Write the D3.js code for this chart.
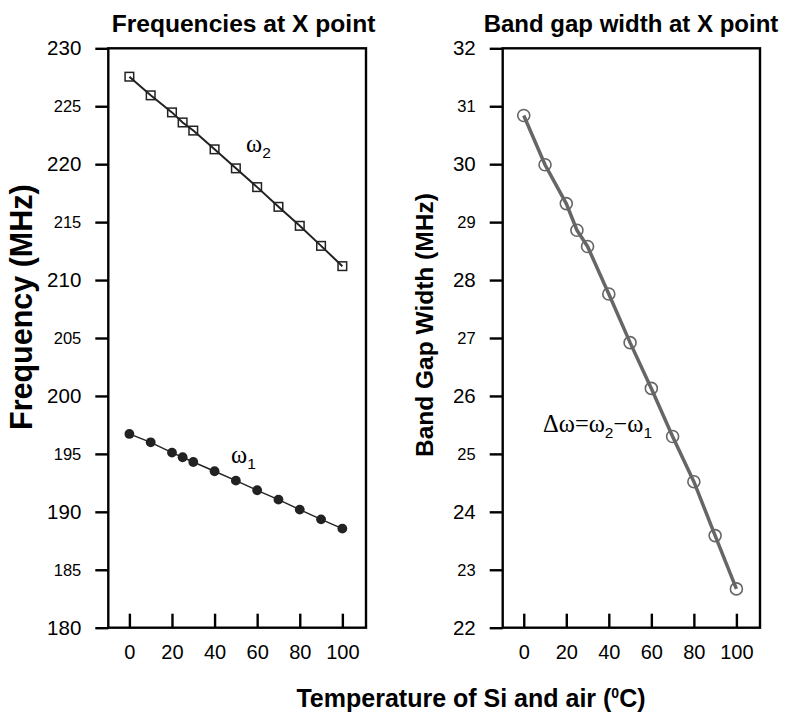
<!DOCTYPE html>
<html>
<head>
<meta charset="utf-8">
<script src="https://cdn.jsdelivr.net/npm/d3@7"></script>
<style>
  body { margin: 0; background: #fff; }
  svg { display: block; font-family: "Liberation Sans", Arial, Helvetica, sans-serif; }
  .frame { fill: none; stroke: #000; stroke-width: 2.4; }
  .axis path { display: none; }
  .axis line { stroke: #000; stroke-width: 2.4; }
  .axis text { fill: #000; font-family: "Liberation Sans", Arial, sans-serif; }
</style>
</head>
<body>
<svg id="chart" width="790" height="713"></svg>
<script>
var temps = [0, 10, 20, 25, 30, 40, 50, 60, 70, 80, 90, 100];
var omega2 = [227.55, 225.94, 224.47, 223.6, 222.9, 221.28, 219.64, 218.02, 216.32, 214.68, 212.95, 211.2];
var omega1 = [196.72, 196.0, 195.11, 194.71, 194.3, 193.5, 192.69, 191.86, 191.05, 190.19, 189.35, 188.55];
var gapWidth = [30.84, 29.99, 29.32, 28.86, 28.58, 27.76, 26.92, 26.13, 25.30, 24.52, 23.59, 22.67];

var xTicks = [0, 20, 40, 60, 80, 100];
var freqTicks = [180, 185, 190, 195, 200, 205, 210, 215, 220, 225, 230];
var gapTicks = [22, 23, 24, 25, 26, 27, 28, 29, 30, 31, 32];

var svg = d3.select("#chart");

var plotTop = 48.3, plotBottom = 627.7;

//////////////////////////////////////////////////////////////////////////////

function drawPanel(opts) {
  var xScale = d3.scaleLinear()
    .domain([-9.9, 111.1])
    .range([opts.left, opts.right]);

  var yScale = d3.scaleLinear()
    .domain(opts.yDomain)
    .range([plotBottom, plotTop]);

  // frame
  svg.append("rect")
    .attr("class", "frame")
    .attr("x", opts.left)
    .attr("y", plotTop)
    .attr("width", opts.right - opts.left)
    .attr("height", plotBottom - plotTop);

  // y axis, ticks outward
  var yAxis = svg.append("g")
    .attr("class", "axis")
    .attr("transform", "translate(" + opts.left + ",0)")
    .call(d3.axisLeft(yScale)
      .tickValues(opts.yTicks)
      .tickSizeInner(13)
      .tickSizeOuter(0)
      .tickPadding(14));

  yAxis.selectAll("text")
    .style("font-size", function(d) {
      return opts.isMajor(d) ? "20.5px" : "16.5px";
    });

  // x axis, ticks inward
  svg.append("g")
    .attr("class", "axis")
    .attr("transform", "translate(0," + plotBottom + ")")
    .call(d3.axisBottom(xScale)
      .tickValues(xTicks)
      .tickSizeInner(-14)
      .tickSizeOuter(0)
      .tickPadding(17))
    .selectAll("text")
    .style("font-size", "20px");

  // title
  svg.append("text")
    .attr("x", opts.titleX)
    .attr("y", 32)
    .style("text-anchor", "middle")
    .style("font-size", opts.titleSize)
    .style("font-weight", "bold")
    .text(opts.title);

  return { x: xScale, y: yScale };
}

function series(values) {
  return temps.map(function(t, i) {
    return { t: t, v: values[i] };
  });
}

function omegaLabel(x, y, parts) {
  var t = svg.append("text")
    .attr("x", x)
    .attr("y", y)
    .style("font-size", "24.5px");
  parts.forEach(function(p) {
    var s = t.append("tspan").attr("dy", p.dy).text(p.text);
    if (p.sub) s.style("font-size", "15.5px");
    else s.style("font-family", "'Liberation Serif', serif");
  });
}

//////////////////////////////////////////////////////////////////////////////
// left panel: frequencies

var left = drawPanel({
  left: 108.3, right: 366,
  yDomain: [180, 230], yTicks: freqTicks,
  isMajor: function(d) { return d % 10 === 0; },
  title: "Frequencies at X point", titleX: 243.5, titleSize: "24.6px"
});

var lineL = d3.line()
  .x(function(d) { return left.x(d.t); })
  .y(function(d) { return left.y(d.v); });

svg.append("path")
  .datum(series(omega1))
  .attr("d", lineL)
  .attr("fill", "none")
  .attr("stroke", "#222")
  .attr("stroke-width", 1.4);

svg.selectAll(".dot1")
  .data(series(omega1))
  .enter()
  .append("circle")
  .attr("class", "dot1")
  .attr("cx", function(d) { return left.x(d.t); })
  .attr("cy", function(d) { return left.y(d.v); })
  .attr("r", 4.9)
  .attr("fill", "#222");

svg.selectAll(".sq2")
  .data(series(omega2))
  .enter()
  .append("rect")
  .attr("class", "sq2")
  .attr("x", function(d) { return left.x(d.t) - 4.3; })
  .attr("y", function(d) { return left.y(d.v) - 4.3; })
  .attr("width", 8.6)
  .attr("height", 8.6)
  .attr("fill", "#fff")
  .attr("stroke", "#222")
  .attr("stroke-width", 1.5);

svg.append("path")
  .datum(series(omega2))
  .attr("d", lineL)
  .attr("fill", "none")
  .attr("stroke", "#222")
  .attr("stroke-width", 2);

// omega labels
omegaLabel(246, 152, [{ text: "ω" }, { text: "2", sub: true, dy: 6 }]);
omegaLabel(231, 463, [{ text: "ω" }, { text: "1", sub: true, dy: 6 }]);

// y label
svg.append("text")
  .attr("transform", "rotate(-90)")
  .attr("x", -430)
  .attr("y", 32)
  .style("text-anchor", "start")
  .style("font-size", "30.5px")
  .style("font-weight", "bold")
  .text("Frequency (MHz)");

//////////////////////////////////////////////////////////////////////////////
// right panel: band gap

var right = drawPanel({
  left: 502.7, right: 760,
  yDomain: [22, 32], yTicks: gapTicks,
  isMajor: function(d) { return d % 2 === 0; },
  title: "Band gap width at X point", titleX: 631, titleSize: "24px"
});

var lineR = d3.line()
  .x(function(d) { return right.x(d.t); })
  .y(function(d) { return right.y(d.v); });

svg.selectAll(".dot3")
  .data(series(gapWidth))
  .enter()
  .append("circle")
  .attr("class", "dot3")
  .attr("cx", function(d) { return right.x(d.t); })
  .attr("cy", function(d) { return right.y(d.v); })
  .attr("r", 6)
  .attr("fill", "none")
  .attr("stroke", "#666")
  .attr("stroke-width", 1.6);

svg.append("path")
  .datum(series(gapWidth))
  .attr("d", lineR)
  .attr("fill", "none")
  .attr("stroke", "#666")
  .attr("stroke-width", 3.5);

omegaLabel(543, 432, [
  { text: "Δω=ω" }, { text: "2", sub: true, dy: 6 },
  { text: "−ω", dy: -6 }, { text: "1", sub: true, dy: 6 }
]);

svg.append("text")
  .attr("transform", "rotate(-90)")
  .attr("x", -457)
  .attr("y", 433)
  .style("text-anchor", "start")
  .style("font-size", "24.5px")
  .style("font-weight", "bold")
  .text("Band Gap Width (MHz)");

// shared x label
var xl = svg.append("text")
  .attr("x", 471)
  .attr("y", 707)
  .style("text-anchor", "middle")
  .style("font-size", "25px")
  .style("font-weight", "bold");
xl.append("tspan").text("Temperature of Si and air (");
xl.append("tspan").attr("dy", -9).style("font-size", "14px").text("0");
xl.append("tspan").attr("dy", 9).text("C)");
</script>
</body>
</html>
